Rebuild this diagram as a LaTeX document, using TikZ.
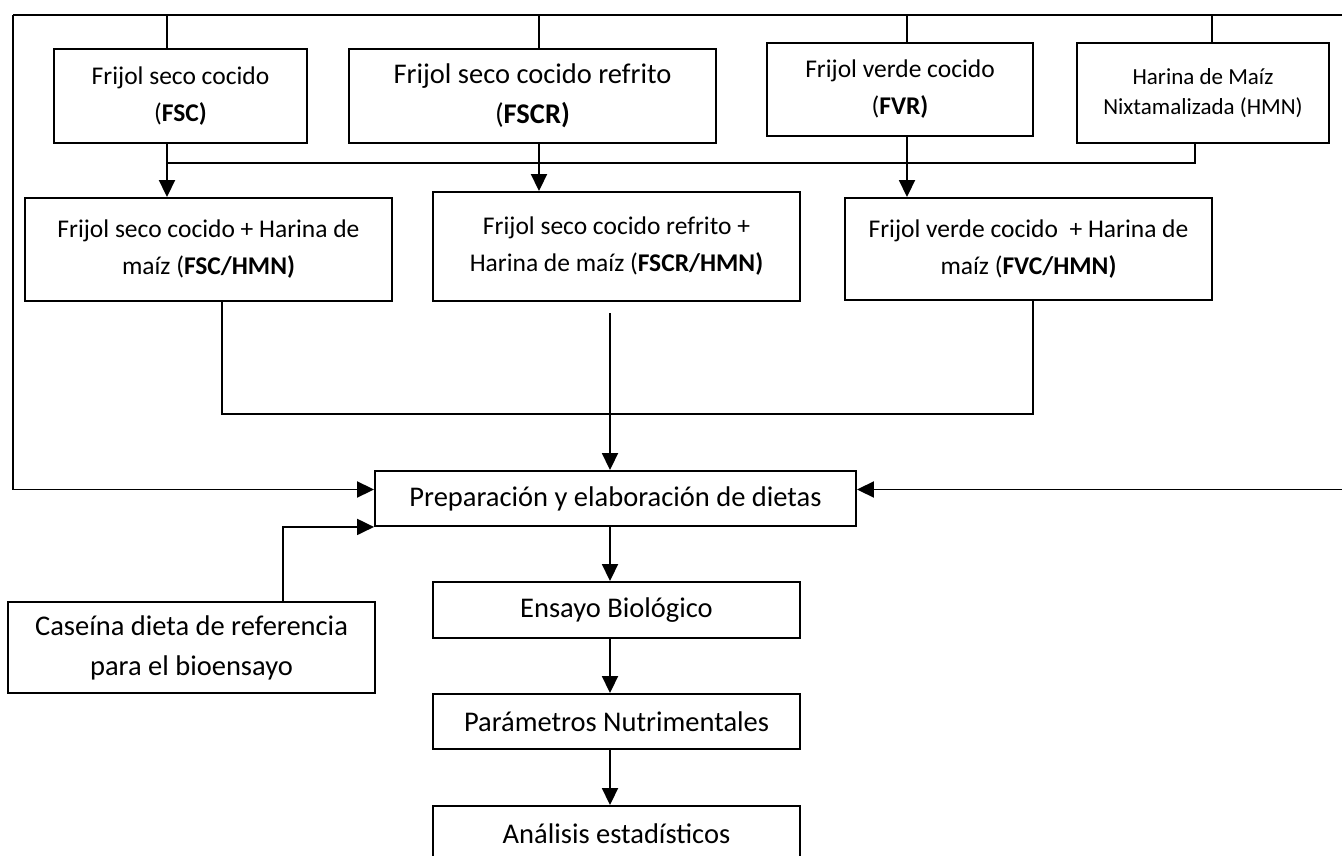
\documentclass[tikz,border=0pt]{standalone}
\usepackage{fontspec}
\setmainfont{Carlito}
\usetikzlibrary{arrows.meta, calc}

\begin{document}
\begin{tikzpicture}[x=1pt, y=-1pt,
	box/.style={draw, line width=1.9pt, inner sep=0pt, align=center},
	txtbig/.style={font=\fontsize{28.5}{40}\selectfont},
	txtmid/.style={font=\fontsize{25.5}{37}\selectfont},
	txtsmall/.style={font=\fontsize{23}{30}\selectfont},
	conn/.style={line width=1.9pt},
	arr/.style={conn, -{Triangle[length=17pt, width=16pt]}}]
	
	\useasboundingbox (0,0) rectangle (1342,856);
	
	\begin{scope}
	\node (fsc) at (180.5,96) [box, txtmid, minimum width=253, minimum height=94] {Frijol seco cocido\\(\textbf{FSC)}};
	\node (fscr) at (532.5,96) [box, txtbig, minimum width=367, minimum height=94] {Frijol seco cocido refrito\\(\textbf{FSCR)}};
	\node (fvr) at (900,89.5) [box, txtmid, minimum width=266, minimum height=93] {Frijol verde cocido\\(\textbf{FVR)}};
	\node (hmn) at (1203,93) [box, txtsmall, minimum width=252, minimum height=100] {Harina de Maíz\\Nixtamalizada (HMN)};
	\end{scope}
	
	\begin{scope}
	\node (fschmn) at (208.5,249.5) [box, txtmid, minimum width=367, minimum height=103] {Frijol seco cocido + Harina de\\maíz (\textbf{FSC/HMN)}};
	\node (fscrhmn) at (616.5,246.5) [box, txtmid, minimum width=367, minimum height=109] {Frijol seco cocido refrito +\\Harina de maíz (\textbf{FSCR/HMN)}};
	\node (fvchmn) at (1028.5,249) [box, txtmid, minimum width=367, minimum height=102] {Frijol verde cocido~ + Harina de\\maíz (\textbf{FVC/HMN)}};
	\end{scope}
	
	\begin{scope}[txtbig]
	\node (prep) at (615.5,498.5) [box, minimum width=481, minimum height=55] {Preparación y elaboración de dietas};
	\node (cas) at (191.5,647.5) [box, minimum width=367, minimum height=91] {Caseína dieta de referencia\\para el bioensayo};
	\node (ens) at (616.5,610) [box, minimum width=367, minimum height=56] {Ensayo Biológico};
	\node (par) at (616.5,721.5) [box, minimum width=367, minimum height=55] {Parámetros Nutrimentales};
	\node (ana) at (616.5,834) [box, minimum width=367, minimum height=56] {Análisis estadísticos};
	\end{scope}
	
	\coordinate (tl) at (13,15);
	\coordinate (tr) at (1342,15);
	\coordinate (c1) at (167,163);
	\coordinate (c2) at (539,0);
	\coordinate (c3) at (907,0);
	\coordinate (c4) at (1212,0);
	\coordinate (c5) at (1195,163);
	\coordinate (d1) at (222,0);
	\coordinate (d3) at (1033,0);
	\coordinate (join) at (610,414);
	\coordinate (gap) at (610,313);
	\coordinate (e1) at (283,0);
	
	\begin{scope}[conn]
	\draw (tl) -- (tr);
	\draw (tl -| c1) -- (fsc.north -| c1);
	\draw (tl -| c2) -- (fscr.north -| c2);
	\draw (tl -| c3) -- (fvr.north -| c3);
	\draw (tl -| c4) -- (hmn.north -| c4);
	\draw (hmn.south -| c5) -- (c5) -- (c1);
	\draw (fschmn.south -| d1) |- (join) -| (fvchmn.south -| d3);
	\end{scope}
	
	\begin{scope}[arr]
	\draw (fsc.south -| c1) -- (fschmn.north -| c1);
	\draw (fscr.south -| c2) -- (fscrhmn.north -| c2);
	\draw (fvr.south -| c3) -- (fvchmn.north -| c3);
	\draw (gap) -- (prep.north -| gap);
	\draw (tl) |- ([yshift=9pt]prep.west);
	\draw ([yshift=9pt]prep.east -| tr) -- ([yshift=9pt]prep.east);
	\draw (cas.north -| e1) |- (prep.south west);
	\draw (prep.south -| join) -- (ens.north -| join);
	\draw (ens.south -| join) -- (par.north -| join);
	\draw (par.south -| join) -- (ana.north -| join);
	\end{scope}
	\end{tikzpicture}
\end{document}
